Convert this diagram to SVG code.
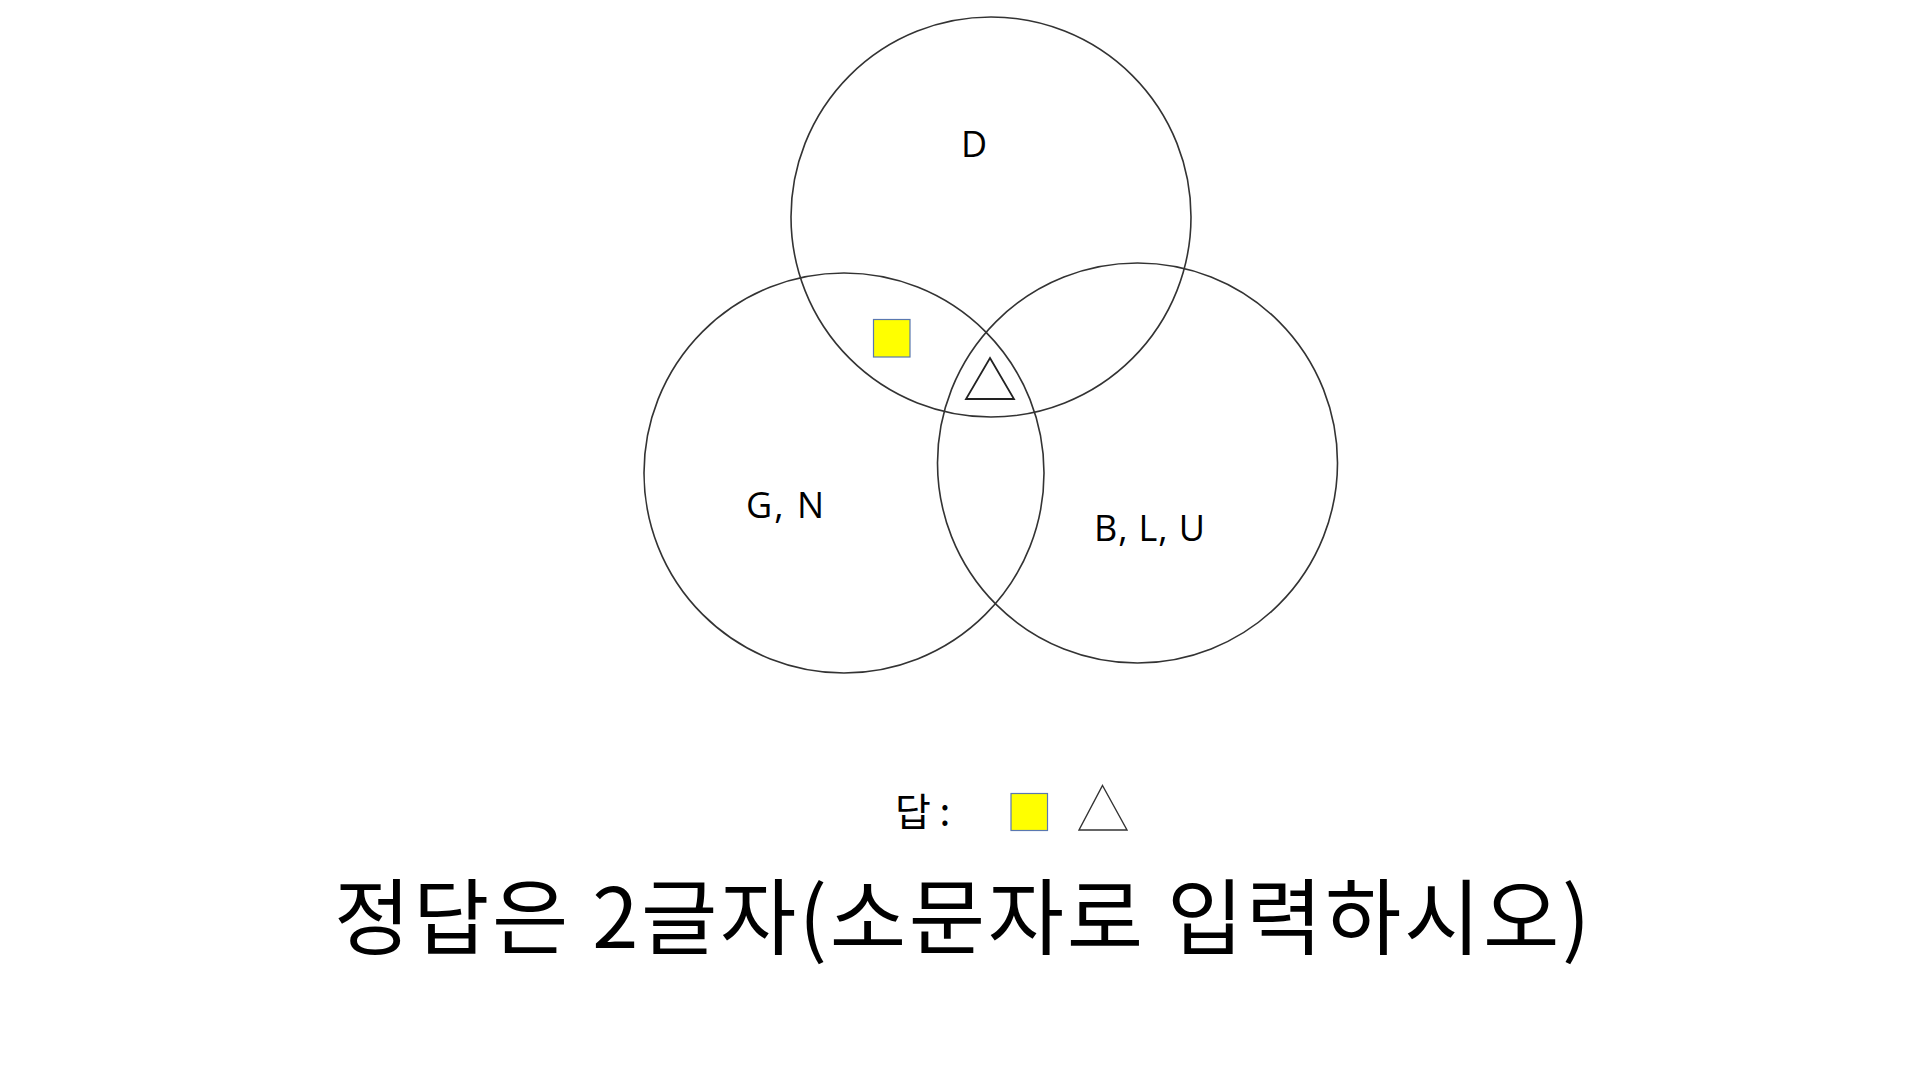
<svg xmlns="http://www.w3.org/2000/svg" width="1920" height="1080" viewBox="0 0 1920 1080">
<style>
.c{fill:none;stroke:#333;stroke-width:1.6}
.lbl{font-family:"Open Sans","Noto Sans",sans-serif;font-size:36px;fill:#000}
.sq{fill:#ffff00;stroke:#5a78b0;stroke-width:1.2}
.tri{fill:#fff;stroke:#222;stroke-width:1.8}
.kr{font-family:"Noto Sans CJK KR","Noto Sans",sans-serif;fill:#000}
</style>
<rect width="1920" height="1080" fill="#fff"/>
<g id="circle-top"><circle class="c" cx="991" cy="217" r="200"/></g>
<g id="circle-left"><circle class="c" cx="844" cy="473" r="200"/></g>
<g id="circle-right"><circle class="c" cx="1137.5" cy="463" r="200"/></g>
<g id="label-d"><text class="lbl" x="974" y="157" text-anchor="middle">D</text></g>
<g id="label-gn"><text class="lbl" x="746" y="518" textLength="78" lengthAdjust="spacing">G,  N</text></g>
<g id="label-blu"><text class="lbl" x="1094" y="541" textLength="111" lengthAdjust="spacing">B,  L,  U</text></g>
<g id="square-mark"><rect class="sq" x="873.5" y="319.5" width="36.5" height="37.5"/></g>
<g id="triangle-mark"><polygon class="tri" points="990,358 1014,399 966,399"/></g>
<g id="answer">
<text class="kr" x="895" y="826" font-size="39">답 :</text>
<rect class="sq" x="1011" y="793.5" width="36.5" height="37"/>
<polygon class="tri" points="1102.5,785.5 1127,830 1079,830" style="stroke-width:1.4;stroke:#333"/>
</g>
<g id="instruction"><text class="kr" x="334" y="948" font-size="83" textLength="1256" lengthAdjust="spacing">정답은 2글자(소문자로 입력하시오)</text></g>
</svg>
